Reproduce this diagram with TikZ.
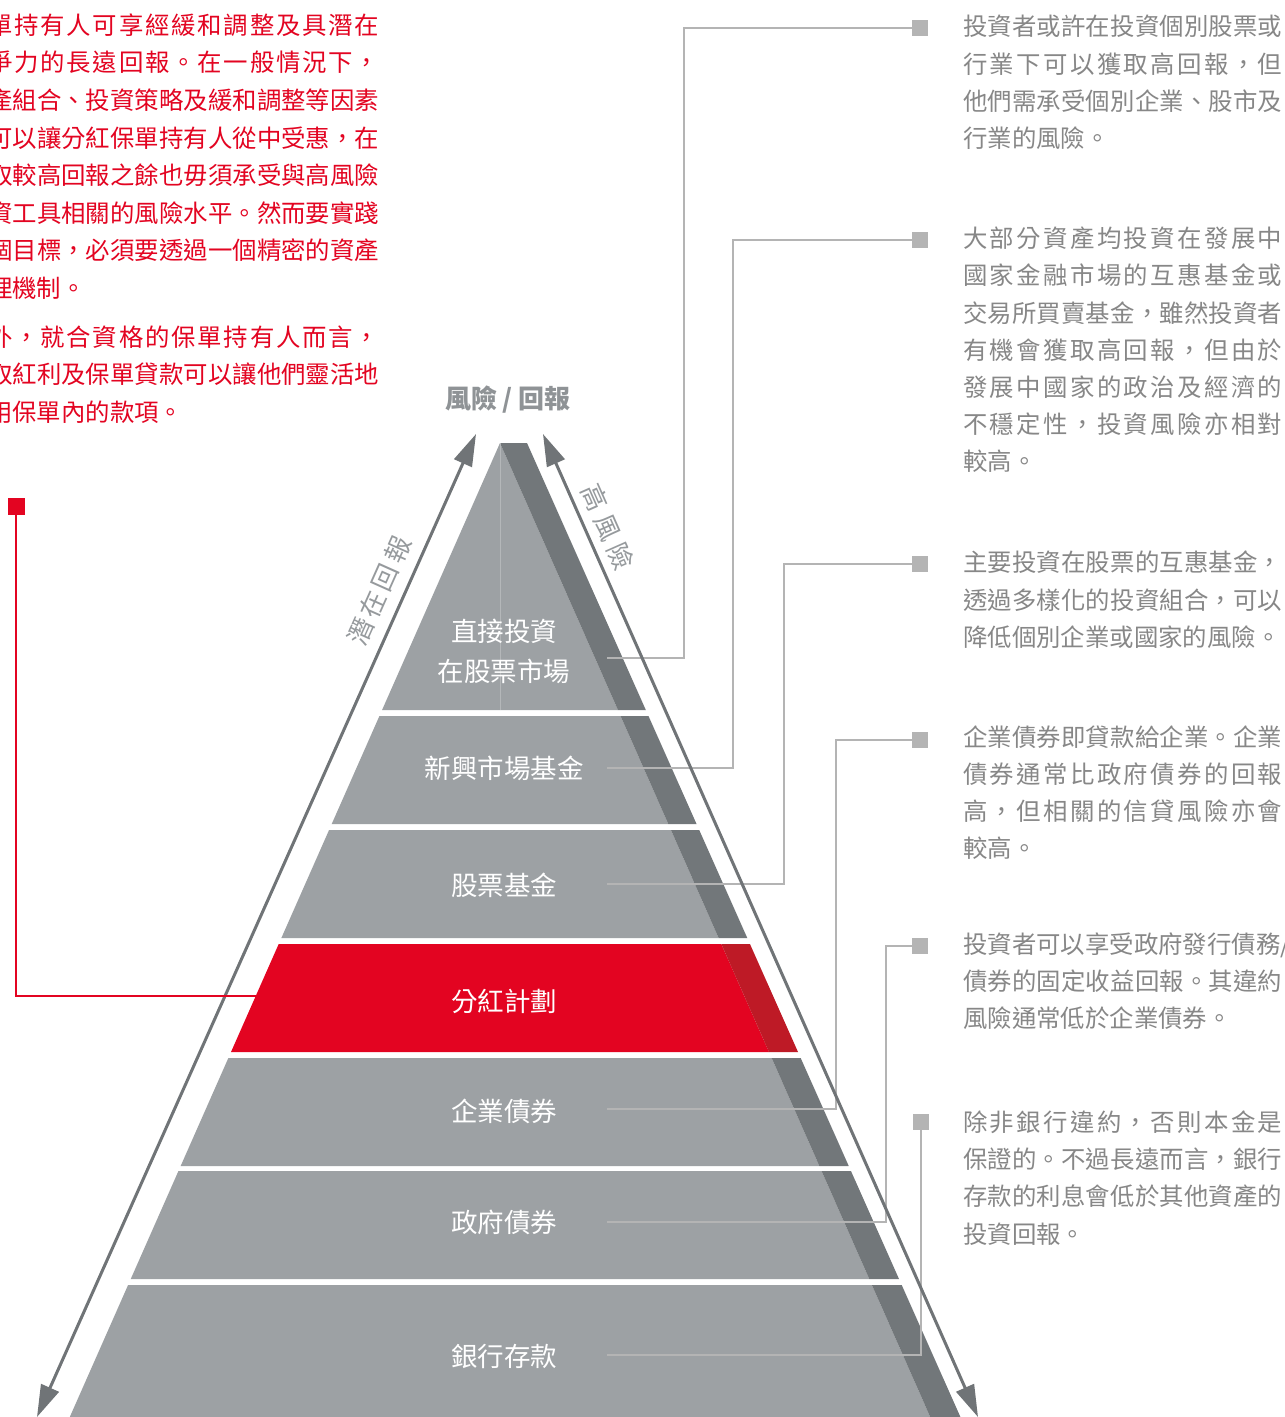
\documentclass[tikz,border=0pt]{standalone}
\usepackage{fontspec}
\newfontfamily\cjk{Noto Sans CJK TC}
\usetikzlibrary{arrows.meta}
\definecolor{pyrlight}{RGB}{157,161,164}
\definecolor{pyrdark}{RGB}{114,119,122}
\definecolor{arrowgrey}{RGB}{112,116,119}
\definecolor{hsbcred}{RGB}{227,4,33}
\definecolor{reddark}{RGB}{190,26,38}
\definecolor{conngrey}{RGB}{180,180,180}
\definecolor{txtgrey}{RGB}{135,135,135}
\definecolor{titlegrey}{RGB}{143,147,150}
\definecolor{sidegrey}{RGB}{150,154,157}
\definecolor{centerline}{RGB}{180,183,185}
\makeatletter
\newdimen\myspreadw
\newcommand\jl[1]{\hbox to \myspreadw{\let\sp@sep\relax\@tfor\sp@c:=#1\do{\sp@sep\sp@c\def\sp@sep{\hfil}}}}
\makeatother
\newcommand\nl[1]{\hbox{#1}}
\newcommand\rfont{\cjk\fontsize{24.4pt}{37.2pt}\selectfont\setlength{\myspreadw}{319pt}}
\newcommand\lfont{\cjk\fontsize{24.4pt}{37.6pt}\selectfont\setlength{\myspreadw}{391pt}}
\tikzset{
 rtext/.style={inner sep=0pt, anchor=base west, text=txtgrey, font=\rfont},
 ltext/.style={inner sep=0pt, anchor=base west, text=hsbcred, font=\lfont},
 lbl/.style={text=white, font={\cjk\fontsize{26.5pt}{40pt}\selectfont}, align=center, inner sep=0pt},
 sidelbl/.style={text=sidegrey, font={\cjk\fontsize{26pt}{30pt}\selectfont}, inner sep=0pt},
 ttl/.style={text=titlegrey, font={\cjk\bfseries\fontsize{26pt}{30pt}\selectfont}, inner sep=0pt},
 sq/.style={rectangle, fill=conngrey, minimum size=16pt, inner sep=0pt},
 redsq/.style={rectangle, fill=hsbcred, minimum size=17pt, inner sep=0pt},
 conn/.style={draw=conngrey, line width=2pt},
 redconn/.style={draw=hsbcred, line width=2pt},
 arr/.style={draw=arrowgrey, line width=3pt, {Triangle[length=32pt,width=19pt]}-{Triangle[length=32pt,width=19pt]}},
}
\begin{document}
\begin{tikzpicture}[x=1pt,y=-1pt]
\useasboundingbox (0,0) rectangle (1285,1417);
\fill[white] (0,0) rectangle (1285,1417);
% pyramid layers
\foreach \t/\b/\fl/\dk in {443/710/pyrlight/pyrdark, 716/824/pyrlight/pyrdark, 830/938/pyrlight/pyrdark, 944/1052/hsbcred/reddark, 1058/1166/pyrlight/pyrdark, 1171/1279/pyrlight/pyrdark, 1285/1417/pyrlight/pyrdark}{
 \fill[\fl] ({500-0.4417*(\t-443)},\t) -- ({500+0.4417*(\t-443)},\t) -- ({500+0.4417*(\b-443)},\b) -- ({500-0.4417*(\b-443)},\b) -- cycle;
 \fill[\dk] ({500+0.4417*(\t-443)},\t) -- ({527+0.445*(\t-443)},\t) -- ({527+0.445*(\b-443)},\b) -- ({500+0.4417*(\b-443)},\b) -- cycle;
}
\draw[line width=1pt, centerline] (500,443) -- (500,710);
% layer labels
\node[lbl] (l1) at (504,651) {直接投資\\在股票市場};
\node[lbl] (l2) at (504,768) {新興市場基金};
\node[lbl] (l3) at (504,885) {股票基金};
\node[lbl] (l4) at (504,1001) {分紅計劃};
\node[lbl] (l5) at (504,1111) {企業債券};
\node[lbl] (l6) at (504,1222) {政府債券};
\node[lbl] (l7) at (504,1356) {銀行存款};
% connector anchors
\coordinate (c1) at (607,658);
\coordinate (c2) at (607,768);
\coordinate (c3) at (607,884);
\coordinate (c5) at (607,1109);
\coordinate (c6) at (607,1222);
\coordinate (c7) at (607,1355);
\coordinate (c4) at (256,996);
\node[sq] (s1) at (920,28) {};
\node[sq] (s2) at (920,240) {};
\node[sq] (s3) at (920,564) {};
\node[sq] (s4) at (920,740) {};
\node[sq] (s5) at (920,946) {};
\node[sq] (s6) at (921,1122) {};
\node[redsq] (s0) at (16,506) {};
\draw[conn] (c1) -- ++(77,0) |- (s1);
\draw[conn] (c2) -- ++(126,0) |- (s2);
\draw[conn] (c3) -- ++(177,0) |- (s3);
\draw[conn] (c5) -- ++(229,0) |- (s4);
\draw[conn] (c6) -- ++(279,0) |- (s5);
\draw[conn] (c7) -| (s6);
% arrows
\coordinate (la1) at (37,1417);
\coordinate (la2) at (476,434);
\coordinate (ra1) at (543,434);
\coordinate (ra2) at (978,1417);
\draw[arr] (la1) -- (la2);
\draw[arr] (ra1) -- (ra2);
\draw[redconn] (s0) |- (c4);
% axis labels
\node[ttl] (title) at (508,400) {風險 / 回報};
\node[sidelbl, rotate=65.9] (pr) at (379,591) {\setlength{\myspreadw}{116pt}\jl{潛在回報}};
\node[sidelbl, rotate=-66.1] (hr) at (608,527) {\setlength{\myspreadw}{90pt}\jl{高風險}};
% right texts
\node[rtext] (r1) at (963,35.8) {\vtop{\jl{投資者或許在投資個別股票或}\jl{行業下可以獲取高回報，但}\jl{他們需承受個別企業、股市及}\nl{行業的風險。}}};
\node[rtext] (r2) at (963,247.6) {\vtop{\jl{大部分資產均投資在發展中}\jl{國家金融市場的互惠基金或}\jl{交易所買賣基金，雖然投資者}\jl{有機會獲取高回報，但由於}\jl{發展中國家的政治及經濟的}\jl{不穩定性，投資風險亦相對}\nl{較高。}}};
\node[rtext] (r3) at (963,571.8) {\vtop{\jl{主要投資在股票的互惠基金，}\jl{透過多樣化的投資組合，可以}\nl{降低個別企業或國家的風險。}}};
\node[rtext] (r4) at (963,746.3) {\vtop{\jl{企業債券即貸款給企業。企業}\jl{債券通常比政府債券的回報}\jl{高，但相關的信貸風險亦會}\nl{較高。}}};
\node[rtext] (r5) at (963,953.3) {\vtop{\jl{投資者可以享受政府發行債務/}\jl{債券的固定收益回報。其違約}\nl{風險通常低於企業債券。}}};
\node[rtext] (r6) at (963,1131.5) {\vtop{\jl{除非銀行違約，否則本金是}\jl{保證的。不過長遠而言，銀行}\jl{存款的利息會低於其他資產的}\nl{投資回報。}}};
% left red text
\node[ltext] (p1) at (-12,34.3) {\vtop{\jl{單持有人可享經緩和調整及具潛在}\jl{爭力的長遠回報。在一般情況下，}\jl{產組合、投資策略及緩和調整等因素}\jl{可以讓分紅保單持有人從中受惠，在}\jl{取較高回報之餘也毋須承受與高風險}\jl{資工具相關的風險水平。然而要實踐}\jl{個目標，必須要透過一個精密的資產}\nl{理機制。}}};
\node[ltext] (p2) at (-12,346.3) {\vtop{\jl{外，就合資格的保單持有人而言，}\jl{取紅利及保單貸款可以讓他們靈活地}\nl{用保單內的款項。}}};
\end{tikzpicture}
\end{document}
